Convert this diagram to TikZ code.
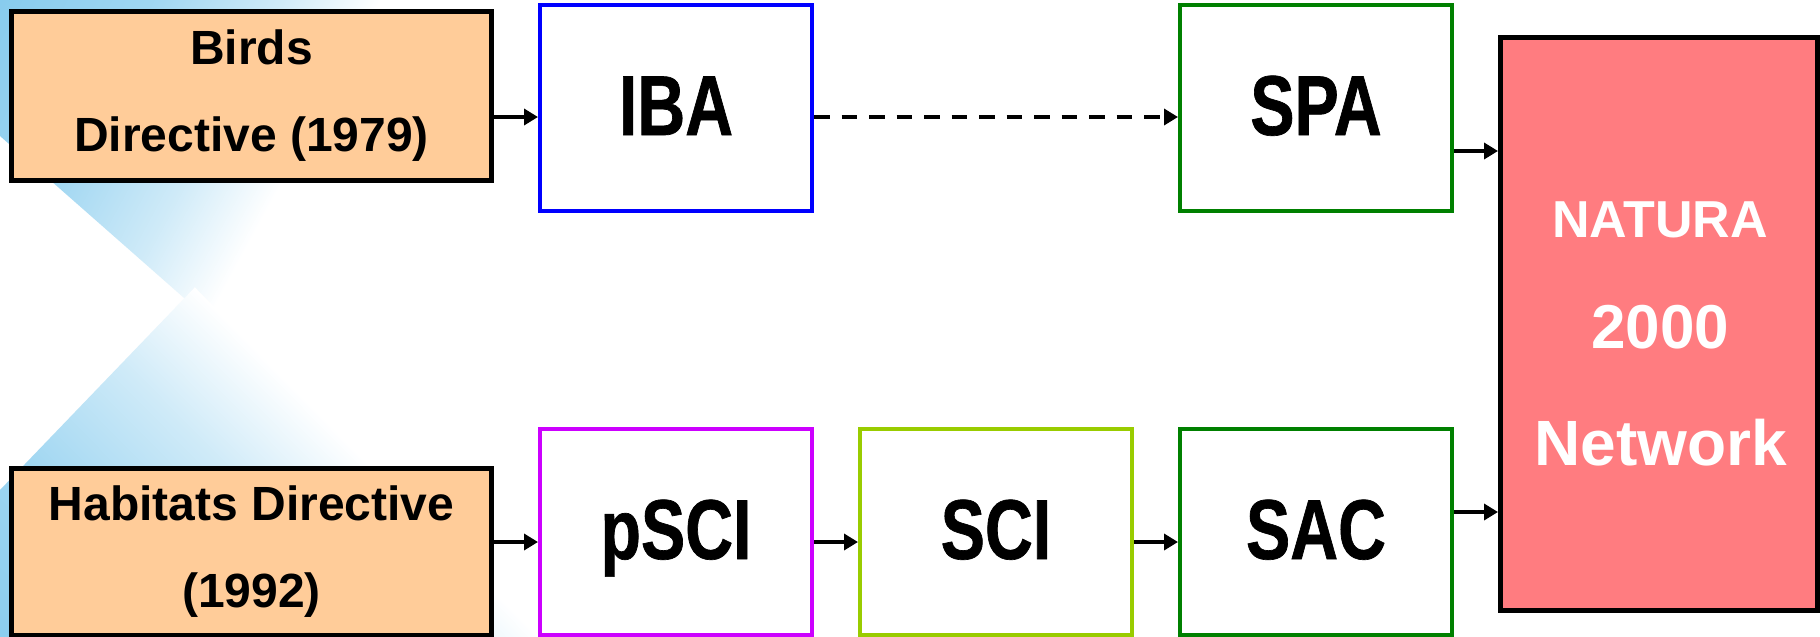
\documentclass[tikz,border=0pt]{standalone}
\usepackage{fontspec}
\setmainfont{Liberation Sans}
\newfontfamily\narrowsans[FakeStretch=0.78,FakeBold=0.8]{Liberation Sans}
\usetikzlibrary{arrows.meta}
\definecolor{peach}{HTML}{FFCC99}
\definecolor{ibablue}{HTML}{0000FF}
\definecolor{darkgreen}{HTML}{008000}
\definecolor{pscimag}{HTML}{CC00FF}
\definecolor{scilime}{HTML}{99CC00}
\definecolor{natpink}{HTML}{FF7C80}
\definecolor{bgblue}{RGB}{136,204,238}
\pgfdeclarehorizontalshading{bandshade}{100bp}{color(0bp)=(bgblue); color(25bp)=(bgblue);
  color(45bp)=(bgblue!80!white); color(62bp)=(bgblue!40!white); color(75bp)=(white); color(100bp)=(white)}
\begin{document}
\begin{tikzpicture}[x=0.5pt,y=-0.5pt,
  dirbox/.style={draw=black, line width=2.5pt, fill=peach, minimum width=240pt,
    inner sep=0pt, align=center, font=\bfseries\fontsize{24}{43.5}\selectfont},
  stagebox/.style={line width=2pt, fill=white, minimum width=136pt, minimum height=103pt,
    inner sep=0pt, text height=29.5pt, text depth=2.5pt,
    font=\narrowsans\bfseries\fontsize{42.5}{42.5}\selectfont},
  natbox/.style={draw=black, line width=2.5pt, fill=natpink, minimum width=158.5pt,
    minimum height=286.5pt, inner sep=0pt},
  nattext/.style={anchor=base, inner sep=0pt, text=white},
  arr/.style={line width=2pt, -{Triangle[length=7pt,width=8pt]}},
  darr/.style={arr, dash pattern=on 7.75pt off 6pt}]
\useasboundingbox (0,0) rectangle (1820,637);
\fill[white] (0,0) rectangle (1820,637);
% background bands
\begin{scope}
  \clip (0,0) -- (0,136) -- (250,356) -- (520,0) -- cycle;
  \begin{scope}[transform canvas={rotate=-28.5}]
    \shade[shading=bandshade] (0,-500) rectangle (335,500);
  \end{scope}
\end{scope}
\begin{scope}
  \clip (0,700) -- (0,490) -- (250,230) -- (950,700) -- cycle;
  \begin{scope}[transform canvas={rotate=44.6}]
    \shade[shading=bandshade] (-470,0) rectangle (-63,1000);
  \end{scope}
\end{scope}
% boxes
\node[dirbox, minimum height=84.5pt] (birds) at (251.5,96) {Birds\\Directive (1979)};
\node[dirbox, minimum height=83.5pt] (habitats) at (251.5,552) {Habitats Directive\\(1992)};
\node[stagebox, draw=ibablue] (iba) at (676,108) {IBA};
\node[stagebox, draw=darkgreen] (spa) at (1316,108) {SPA};
\node[stagebox, draw=pscimag] (psci) at (676,532) {pSCI};
\node[stagebox, draw=scilime] (sci) at (996,532) {SCI};
\node[stagebox, draw=darkgreen] (sac) at (1316,532) {SAC};
\node[natbox] (natura) at (1659,324) {};
\node[nattext, font=\bfseries\fontsize{26}{26}\selectfont] (nat1) at (1660,237) {NATURA};
\node[nattext, font=\bfseries\fontsize{31}{31}\selectfont] (nat2) at (1660,348) {2000};
\node[nattext, font=\bfseries\fontsize{32}{32}\selectfont] (nat3) at (1661,465) {Network};
% connectors
\draw[arr] ([yshift=-10.5pt]birds.east) -- ([yshift=-10.5pt]birds.east -| iba.west);
\draw[darr] ([yshift=-4.5pt]iba.east) -- ([yshift=-4.5pt]iba.east -| spa.west);
\draw[arr] ([yshift=-21.5pt]spa.east) -- ([yshift=-21.5pt]spa.east -| natura.west);
\draw[arr] ([yshift=5pt]habitats.east) -- ([yshift=5pt]habitats.east -| psci.west);
\draw[arr] ([yshift=-5pt]psci.east) -- ([yshift=-5pt]psci.east -| sci.west);
\draw[arr] ([yshift=-5pt]sci.east) -- ([yshift=-5pt]sci.east -| sac.west);
\draw[arr] ([yshift=10pt]sac.east) -- ([yshift=10pt]sac.east -| natura.west);
\end{tikzpicture}
\end{document}
